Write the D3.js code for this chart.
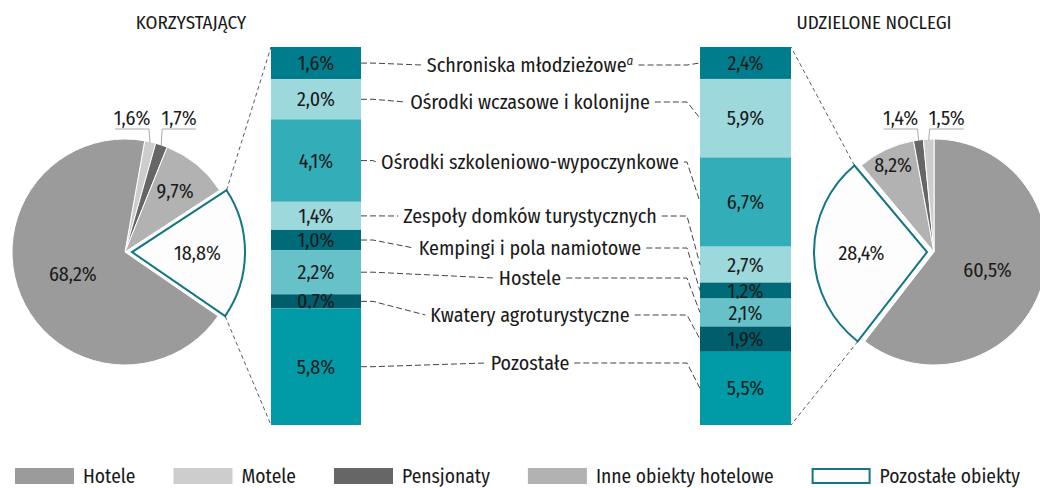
<!DOCTYPE html>
<html>
<head>
<meta charset="utf-8">
<script src="https://cdn.jsdelivr.net/npm/d3@7"></script>
<style>
  body { margin: 0; background: #fff; }
  svg text { font-family: "Fira Sans Condensed", "Liberation Sans Narrow", "DejaVu Sans Condensed", "Roboto Condensed", sans-serif; fill: #1a1a1a; }
</style>
</head>
<body>
<svg id="chart"></svg>
<script>
// --- data ---
const pieCats = ["Hotele", "Motele", "Pensjonaty", "Inne obiekty hotelowe", "Pozostałe obiekty"];
const pieLeft = [68.2, 1.6, 1.7, 9.7, 18.8];   // korzystający
const pieRight = [60.5, 1.5, 1.4, 8.2, 28.4];  // udzielone noclegi
const barCats = ["Schroniska młodzieżowe", "Ośrodki wczasowe i kolonijne", "Ośrodki szkoleniowo-wypoczynkowe",
  "Zespoły domków turystycznych", "Kempingi i pola namiotowe", "Hostele", "Kwatery agroturystyczne", "Pozostałe"];
const barLeft = [1.6, 2.0, 4.1, 1.4, 1.0, 2.2, 0.7, 5.8];
const barRight = [2.4, 5.9, 6.7, 2.7, 1.2, 2.1, 1.9, 5.5];
const titles = ["KORZYSTAJĄCY", "UDZIELONE NOCLEGI"];

// --- styles / layout ---
const pieColor = ["#9b9b9b", "#cdcdcd", "#666666", "#b2b2b2", "#fdfdfd"];
const barColor = ["#007d8c", "#9cd8dc", "#33adb8", "#9cd8dc", "#006a78", "#66c2c8", "#005d6b", "#009ba6"];
const teal = "#127684";
const labelY = [65, 102, 162, 216, 248, 278, 315, 363];   // middle label rows
const W = 1040, H = 488, R = 113, FS = "20px";

const pl = d3.formatLocale({ decimal: ",", thousands: " ", grouping: [3], currency: ["", " zł"] });
const pct = v => pl.format(".1f")(v) + "%";

const svg = d3.select("#chart").attr("width", W).attr("height", H);

// bars
const barTop = 47, barBot = 425;
const barsX = [{ x0: 271, x1: 361, vals: barLeft }, { x0: 700, x1: 791, vals: barRight }];
const mids = [];
barsX.forEach(b => {
  const y = d3.scaleLinear().domain([0, d3.sum(b.vals)]).range([barTop, barBot]);
  const cum = d3.cumsum(b.vals);
  const g = svg.append("g");
  const m = [];
  b.vals.forEach((v, i) => {
    const y0 = y(cum[i] - v), y1 = y(cum[i]);
    m.push((y0 + y1) / 2);
    g.append("rect").attr("x", b.x0).attr("y", y0).attr("width", b.x1 - b.x0).attr("height", y1 - y0)
      .attr("fill", barColor[i]);
    g.append("text").attr("x", (b.x0 + b.x1) / 2).attr("y", (y0 + y1) / 2).attr("dy", "0.35em")
      .attr("text-anchor", "middle").style("font-size", FS).text(pct(v));
  });
  mids.push(m);
});

// middle labels + connectors
const lab = svg.append("g");
barCats.forEach((c, i) => {
  const t = lab.append("text").attr("x", 530).attr("y", labelY[i]).attr("dy", "0.35em")
    .attr("text-anchor", "middle").style("font-size", FS).text(c);
  if (i === 0) t.append("tspan").attr("dy", "-0.55em").style("font-size", "13px").style("font-style", "italic").text("a");
  const bb = t.node().getBBox();
  const line = d3.line();
  lab.append("path").attr("d", line([[361, mids[0][i]], [373, mids[0][i]], [bb.x - 5, labelY[i]]]))
    .attr("fill", "none").attr("stroke", "#444").attr("stroke-dasharray", "6,3");
  lab.append("path").attr("d", line([[bb.x + bb.width + 5, labelY[i]], [687, labelY[i]], [700, mids[1][i]]]))
    .attr("fill", "none").attr("stroke", "#444").attr("stroke-dasharray", "6,3");
});

// pies
function drawPie(cx, vals, order, start, barEdge, inneK) {
  const cy = 252;
  const g = svg.append("g").attr("transform", `translate(${cx},${cy})`);
  const arcs = d3.pie().sort(null).value(i => vals[i]).startAngle(start).endAngle(start + 2 * Math.PI)(order);
  const arc = d3.arc().innerRadius(0).outerRadius(R);
  const pt = (a, r) => [Math.sin(a) * r, -Math.cos(a) * r];
  const small = [];
  arcs.forEach(a => {
    const i = a.data, mid = (a.startAngle + a.endAngle) / 2;
    if (i === 4) {
      const [ox, oy] = pt(mid, 7);
      g.append("path").attr("d", arc(a)).attr("transform", `translate(${ox},${oy})`)
        .attr("fill", pieColor[i]).attr("stroke", teal).attr("stroke-width", 2).attr("stroke-linejoin", "miter");
      const [lx, ly] = pt(mid, R * 0.58);
      g.append("text").attr("x", lx + ox).attr("y", ly + oy).attr("dy", "0.35em").attr("text-anchor", "middle")
        .style("font-size", FS).text(pct(vals[i]));
      // corners to bar
      const c = [pt(a.startAngle, R), pt(a.endAngle, R)].map(p => [p[0] + ox + cx, p[1] + oy + cy]).sort((p, q) => p[1] - q[1]);
      svg.append("path").attr("d", d3.line()([c[0], [barEdge, barTop]])).attr("stroke", "#333")
        .attr("stroke-width", 0.8).attr("stroke-dasharray", "4,3").attr("fill", "none");
      svg.append("path").attr("d", d3.line()([c[1], [barEdge, barBot]])).attr("stroke", "#333")
        .attr("stroke-width", 0.8).attr("stroke-dasharray", "4,3").attr("fill", "none");
    } else {
      g.append("path").attr("d", arc(a)).attr("fill", pieColor[i]).attr("stroke", "#fff").attr("stroke-width", 1);
      if (i === 0 || i === 3) {
        const [lx, ly] = pt(mid, R * (i === 0 ? 0.5 : inneK));
        g.append("text").attr("x", lx).attr("y", ly).attr("dy", "0.35em").attr("text-anchor", "middle")
          .style("font-size", FS).text(pct(vals[i]));
      } else small.push({ i, p: pt(mid, R - 1) });
    }
  });
  // small slices: leader lines
  small.sort((a, b) => a.p[0] - b.p[0]);
  small.forEach((s, k) => {
    const ty = -R - 10, dir = k === 0 ? -1 : 1;
    const x0 = s.p[0] + dir * 1, x1 = x0 + dir * 34;
    g.append("path").attr("d", d3.line()([s.p, [x0, ty], [x1, ty]])).attr("fill", "none")
      .attr("stroke", "#aaa").attr("stroke-width", 1);
    g.append("text").attr("x", (x0 + x1) / 2).attr("y", ty - 4).attr("text-anchor", "middle")
      .style("font-size", FS).text(pct(vals[s.i]));
  });
}
drawPie(125, pieLeft, [1, 2, 3, 4, 0], 0.175, 271, 0.7);
drawPie(934, pieRight, [0, 4, 3, 2, 1], 0, 791, 0.85);

// titles
svg.append("text").attr("x", 191).attr("y", 22).attr("dy", "0.35em").attr("text-anchor", "middle")
  .style("font-size", "19px").text(titles[0]);
svg.append("text").attr("x", 874).attr("y", 22).attr("dy", "0.35em").attr("text-anchor", "middle")
  .style("font-size", "19px").text(titles[1]);

// legend
const leg = svg.append("g").attr("transform", "translate(15,468)");
let lx = 0;
pieCats.forEach((c, i) => {
  leg.append("rect").attr("x", lx + (i === 4 ? 1 : 0)).attr("y", i === 4 ? 1 : 0)
    .attr("width", i === 4 ? 57 : 59).attr("height", i === 4 ? 14 : 16)
    .attr("fill", pieColor[i]).attr("stroke", i === 4 ? teal : "none").attr("stroke-width", 2);
  const t = leg.append("text").attr("x", lx + 68).attr("y", 8).attr("dy", "0.35em")
    .style("font-size", "19.5px").text(c);
  lx += 68 + t.node().getComputedTextLength() + 38;
});
</script>
</body>
</html>
